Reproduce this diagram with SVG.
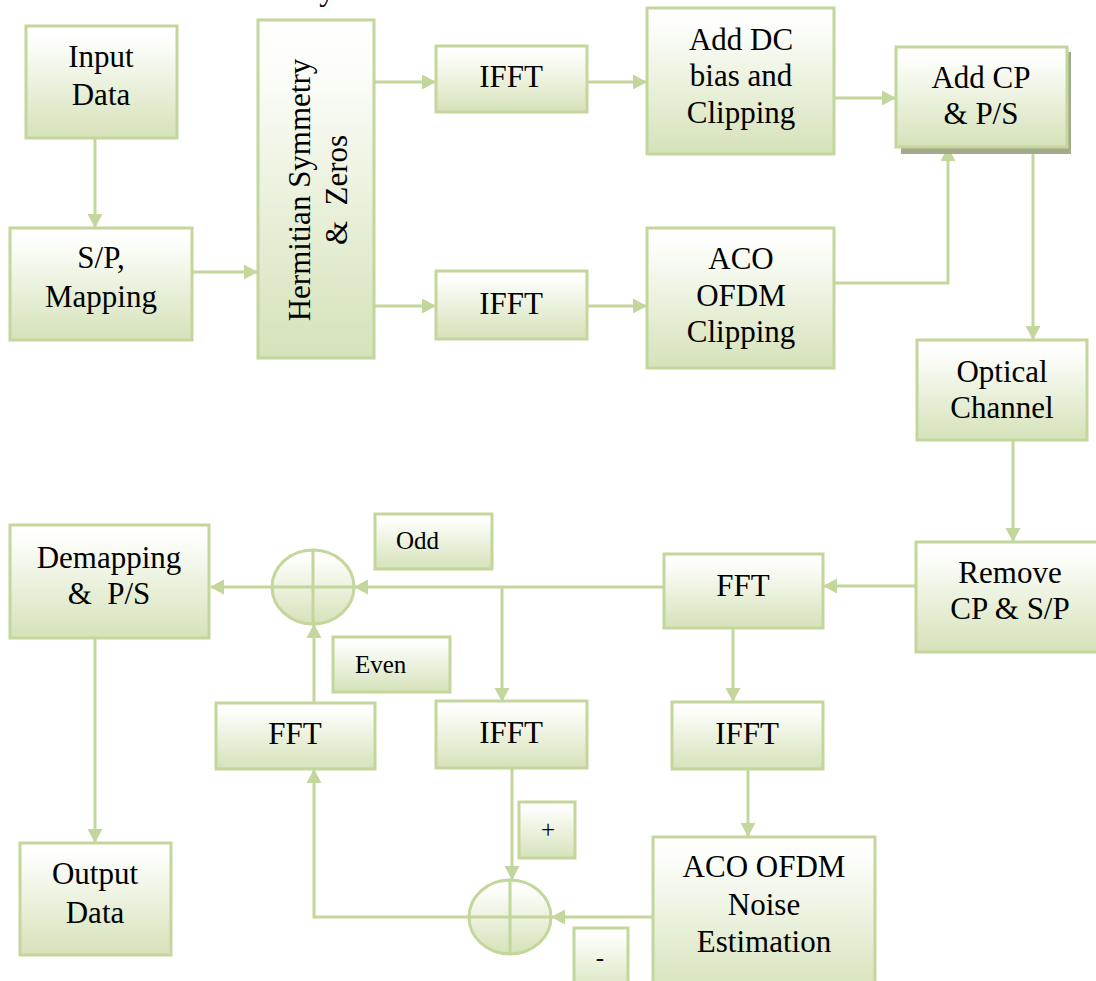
<svg xmlns="http://www.w3.org/2000/svg" width="1096" height="981" viewBox="0 0 1096 981">
<defs>
<linearGradient id="g" x1="0" y1="0" x2="0" y2="1">
<stop offset="0" stop-color="#ffffff"/>
<stop offset="0.12" stop-color="#fdfefb"/>
<stop offset="1" stop-color="#d5e2b9"/>
</linearGradient>
<marker id="ah" markerUnits="userSpaceOnUse" markerWidth="14" markerHeight="16" refX="13" refY="7.5" orient="auto">
<path d="M0,0 L14,7.5 L0,15 z" fill="#c3d69b"/>
</marker>
<style>
.b{fill:url(#g);stroke:#c3d69b;stroke-width:3}
.t{font-family:"Liberation Serif","Times New Roman",serif;font-size:31px;fill:#000;text-anchor:middle}
.s{font-family:"Liberation Serif","Times New Roman",serif;font-size:25px;fill:#000}
.c{fill:none;stroke:#c3d69b;stroke-width:3}
.a{fill:none;stroke:#c3d69b;stroke-width:3;marker-end:url(#ah)}
.x{fill:none;stroke:#c3d69b;stroke-width:3}
</style>
</defs>
<rect width="1096" height="981" fill="#ffffff"/>
<text class="t" x="327" y="0">y</text>

<g id="connectors">
<path class="a" d="M95,138 V227"/>
<path class="a" d="M192,272 H257"/>
<path class="a" d="M374,82 H435"/>
<path class="a" d="M374,306 H435"/>
<path class="a" d="M587,82 H646"/>
<path class="a" d="M587,306 H646"/>
<path class="a" d="M834,98 H895"/>
<path class="a" d="M834,283 H948 V148"/>
<path class="a" d="M1033,147 V339"/>
<path class="a" d="M1013,440 V541"/>
<path class="a" d="M916,586 H824"/>
<path class="a" d="M664,587 H355"/>
<path class="a" d="M502,587 V701"/>
<path class="a" d="M733,628 V701"/>
<path class="a" d="M272,587 H211"/>
<path class="a" d="M95,638 V842"/>
<path class="a" d="M314,703 V625"/>
<path class="a" d="M512,768 V879"/>
<path class="a" d="M748,769 V836"/>
<path class="a" d="M653,917 H552"/>
<path class="a" d="M469,917 H314 V770"/>
</g>

<g id="input-data">
<rect class="b" x="26" y="26" width="151" height="112"/>
<text class="t" x="101" y="67">Input</text>
<text class="t" x="101" y="105">Data</text>
</g>
<g id="sp-mapping">
<rect class="b" x="10" y="228" width="182" height="112"/>
<text class="t" x="101" y="268">S/P,</text>
<text class="t" x="101" y="307">Mapping</text>
</g>
<g id="hermitian">
<rect class="b" x="258" y="20" width="116" height="338"/>
<text class="t" transform="translate(310,190) rotate(-90)" x="0" y="0">Hermitian Symmetry</text>
<text class="t" transform="translate(347,190) rotate(-90)" x="0" y="0" xml:space="preserve">&amp;  Zeros</text>
</g>
<g id="ifft-top">
<rect class="b" x="436" y="46" width="151" height="66"/>
<text class="t" x="511" y="87">IFFT</text>
</g>
<g id="ifft-mid">
<rect class="b" x="436" y="271" width="151" height="68"/>
<text class="t" x="511" y="314">IFFT</text>
</g>
<g id="add-dc">
<rect class="b" x="647" y="8" width="187" height="146"/>
<text class="t" x="741" y="50">Add DC</text>
<text class="t" x="741" y="86">bias and</text>
<text class="t" x="741" y="123">Clipping</text>
</g>
<g id="aco-clipping">
<rect class="b" x="647" y="228" width="187" height="140"/>
<text class="t" x="741" y="269">ACO</text>
<text class="t" x="741" y="306">OFDM</text>
<text class="t" x="741" y="342">Clipping</text>
</g>
<g id="add-cp">
<rect x="901" y="52" width="170" height="102" fill="#a3aa8b"/>
<rect class="b" x="896" y="47" width="171" height="100"/>
<text class="t" x="981" y="88">Add CP</text>
<text class="t" x="981" y="124">&amp; P/S</text>
</g>
<g id="optical-channel">
<rect class="b" x="917" y="340" width="170" height="100"/>
<text class="t" x="1002" y="382">Optical</text>
<text class="t" x="1002" y="418">Channel</text>
</g>
<g id="remove-cp">
<rect class="b" x="916" y="542" width="190" height="110"/>
<text class="t" x="1010" y="583">Remove</text>
<text class="t" x="1010" y="619">CP &amp; S/P</text>
</g>
<g id="fft-right">
<rect class="b" x="664" y="554" width="159" height="74"/>
<text class="t" x="743" y="596">FFT</text>
</g>
<g id="ifft-right">
<rect class="b" x="672" y="702" width="151" height="67"/>
<text class="t" x="747" y="744">IFFT</text>
</g>
<g id="aco-noise">
<rect class="b" x="653" y="837" width="222" height="160"/>
<text class="t" x="764" y="877">ACO OFDM</text>
<text class="t" x="764" y="915">Noise</text>
<text class="t" x="764" y="952">Estimation</text>
</g>
<g id="adder-top">
<ellipse class="b" cx="313" cy="587" rx="41" ry="37"/>
<path class="x" d="M272,587 H354 M313,550 V624"/>
</g>
<g id="odd-label">
<rect class="b" x="375" y="514" width="117" height="55"/>
<text class="s" x="396" y="549">Odd</text>
</g>
<g id="even-label">
<rect class="b" x="333" y="637" width="117" height="55"/>
<text class="s" x="355" y="673">Even</text>
</g>
<g id="demapping">
<rect class="b" x="10" y="525" width="199" height="113"/>
<text class="t" x="109" y="568">Demapping</text>
<text class="t" x="109" y="604" xml:space="preserve">&amp;  P/S</text>
</g>
<g id="output-data">
<rect class="b" x="20" y="843" width="151" height="112"/>
<text class="t" x="95" y="884">Output</text>
<text class="t" x="95" y="923">Data</text>
</g>
<g id="fft-left">
<rect class="b" x="216" y="703" width="159" height="66"/>
<text class="t" x="295" y="744">FFT</text>
</g>
<g id="ifft-center">
<rect class="b" x="436" y="701" width="151" height="67"/>
<text class="t" x="511" y="743">IFFT</text>
</g>
<g id="plus-label">
<rect class="b" x="519" y="802" width="56" height="56"/>
<text class="s" x="548" y="838" text-anchor="middle">+</text>
</g>
<g id="adder-bottom">
<ellipse class="b" cx="510" cy="917" rx="41" ry="37"/>
<path class="x" d="M469,917 H551 M510,880 V954"/>
</g>
<g id="minus-label">
<rect class="b" x="574" y="928" width="54" height="70"/>
<text class="s" x="600" y="966" text-anchor="middle">-</text>
</g>
</svg>
